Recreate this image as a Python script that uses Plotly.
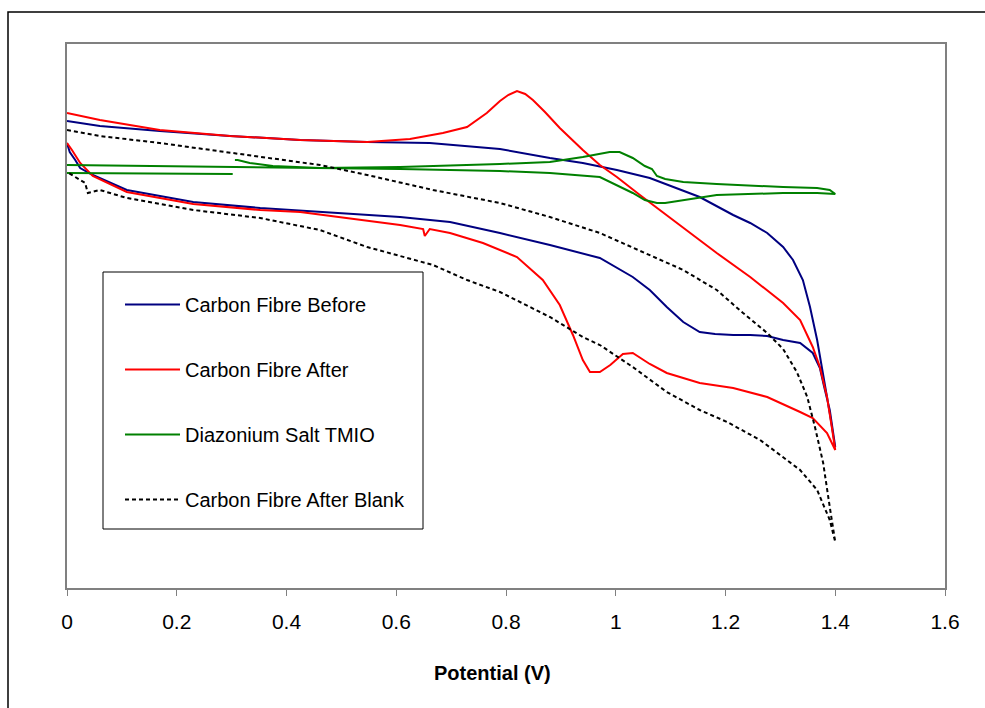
import plotly.graph_objects as go

# Cyclic voltammograms: potential (V) vs. current (arbitrary units).
# Each scan runs forward to 1.4 V and then back to 0 V.

before_v = [0.000, 0.060, 0.169, 0.297, 0.425, 0.547, 0.661, 0.789, 0.880, 0.940,
            1.002, 1.062, 1.153, 1.214, 1.245, 1.276, 1.305, 1.323, 1.341, 1.354,
            1.367, 1.378, 1.390, 1.400,
            1.390, 1.379, 1.372, 1.359, 1.336, 1.305, 1.276, 1.245, 1.214, 1.181,
            1.153, 1.123, 1.093, 1.062, 1.031, 0.971, 0.880, 0.789, 0.698, 0.607,
            0.461, 0.352, 0.230, 0.109, 0.047, 0.024, 0.015, 0.005, 0.000]
before_i = [467, 462, 457, 452, 448, 446, 445, 439, 430, 425,
            418, 410, 391, 373, 365, 355, 341, 328, 308, 281,
            248, 215, 175, 141,
            178, 203, 220, 235, 245, 248, 252, 253, 253, 254,
            256, 266, 281, 298, 311, 330, 343, 355, 366, 371,
            376, 380, 386, 398, 413, 420, 428, 436, 445]

after_v = [0.000, 0.060, 0.169, 0.297, 0.425, 0.547, 0.625, 0.685, 0.729, 0.765,
           0.789, 0.804, 0.820, 0.835, 0.849, 0.871, 0.898, 0.940, 0.971, 1.002,
           1.044, 1.080, 1.123, 1.184, 1.245, 1.305, 1.336, 1.359, 1.372, 1.385,
           1.394, 1.400,
           1.385, 1.359, 1.336, 1.276, 1.214, 1.153, 1.093, 1.062, 1.031, 1.013,
           0.990, 0.971, 0.953, 0.940, 0.922, 0.898, 0.867, 0.820, 0.758, 0.698,
           0.661, 0.652, 0.649, 0.607, 0.425, 0.352, 0.230, 0.109, 0.047, 0.024,
           0.009, 0.000]
after_i = [475, 468, 458, 452, 448, 446, 449, 455, 461, 475,
           487, 493, 497, 494, 488, 476, 460, 438, 423, 411,
           393, 378, 360, 335, 311, 285, 268, 241, 221, 191,
           160, 138,
           155, 170, 176, 191, 200, 205, 215, 224, 235, 234,
           223, 216, 216, 228, 253, 283, 308, 331, 345, 355,
           359, 352, 359, 363, 376, 378, 384, 396, 412, 425,
           438, 445]

tmio_v = [0.000, 0.302, None,
          0.306, 0.311, 0.333, 0.375, 0.461, 0.607, 0.789, 0.880, 0.940, 0.989,
          1.007, 1.031, 1.053, 1.066, 1.075, 1.090, 1.123, 1.184, 1.305, 1.367,
          1.390, 1.400,
          1.367, 1.305, 1.184, 1.123, 1.090, 1.075, 1.053, 1.031, 0.998, 0.971,
          0.880, 0.789, 0.607, 0.461, 0.243, 0.000]
tmio_i = [415, 414, None,
          428, 428, 425, 422, 420, 421, 424, 426, 431, 436,
          436, 430, 422, 419, 412, 409, 406, 404, 401, 400,
          398, 394,
          395, 395, 393, 388, 385, 385, 388, 395, 404, 411,
          415, 417, 419, 420, 422, 423]

blank_v = [0.000, 0.060, 0.169, 0.292, 0.461, 0.547, 0.667, 0.789, 0.880, 0.971,
           1.062, 1.123, 1.184, 1.232, 1.276, 1.305, 1.330, 1.349, 1.363, 1.378,
           1.390, 1.400,
           1.390, 1.367, 1.336, 1.299, 1.263, 1.203, 1.153, 1.093, 1.031, 0.971,
           0.940, 0.880, 0.789, 0.729, 0.667, 0.547, 0.461, 0.352, 0.230, 0.109,
           0.060, 0.038, 0.033, 0.024, 0.000]
blank_i = [458, 452, 445, 436, 423, 413, 398, 385, 371, 355,
           333, 318, 298, 275, 255, 239, 216, 191, 161, 125,
           81, 46,
           68, 98, 118, 133, 148, 166, 178, 196, 221, 243,
           251, 271, 296, 308, 323, 341, 358, 370, 378, 390,
           398, 395, 405, 408, 416]

series = [
    ("Carbon Fibre Before", before_v, before_i, "#000080", "solid"),
    ("Carbon Fibre After", after_v, after_i, "#FF0000", "solid"),
    ("Diazonium Salt TMIO", tmio_v, tmio_i, "#008000", "solid"),
    ("Carbon Fibre After Blank", blank_v, blank_i, "#000000", "4px,3px"),
]

fig = go.Figure()
for k, (name, xv, yv, color, dash) in enumerate(series):
    fig.add_trace(go.Scatter(
        x=xv, y=yv, name=name, mode="lines", legendgroup=f"g{k}",
        line=dict(color=color, width=2, dash=dash),
        connectgaps=False, hoverinfo="skip",
    ))

W, H = 985, 708
L, R, T, B = 67, 40, 44, 120
pw, ph = W - L - R, H - T - B


def px_x(p):
    return (p - L) / pw


def px_y(p):
    return (H - B - p) / ph


shapes = [
    # outer chart frame
    dict(type="rect", xref="paper", yref="paper",
         x0=px_x(8), x1=px_x(990), y0=px_y(715), y1=px_y(12),
         line=dict(color="#000000", width=1.5), layer="below"),
    # legend border
    dict(type="rect", xref="paper", yref="paper",
         x0=px_x(103), x1=px_x(423), y0=px_y(529), y1=px_y(272),
         line=dict(color="#000000", width=1), fillcolor="white", layer="above",
         opacity=1),
]

fig.update_layout(
    width=W, height=H, autosize=False,
    margin=dict(l=L, r=R, t=T, b=B),
    paper_bgcolor="white", plot_bgcolor="white",
    font=dict(family="Liberation Sans, Arial, sans-serif", color="#000000"),
    showlegend=True,
    legend=dict(
        x=px_x(120), y=px_y(285), xanchor="left", yanchor="top",
        bgcolor="rgba(0,0,0,0)", borderwidth=0,
        font=dict(size=20, family="Liberation Sans, Arial, sans-serif"),
        itemwidth=55, tracegroupgap=36, traceorder="grouped",
    ),
    xaxis=dict(
        range=[0, 1.6], dtick=0.2, tick0=0,
        showline=True, linecolor="#808080", linewidth=2, mirror=True,
        ticks="outside", ticklen=6, tickcolor="#808080", tickwidth=1,
        ticklabelstandoff=8,
        showgrid=False, zeroline=False,
        tickfont=dict(size=21, family="Liberation Sans, Arial"),
    ),
    yaxis=dict(
        range=[0, 544], showticklabels=False, ticks="",
        showline=True, linecolor="#808080", linewidth=2, mirror=True,
        showgrid=False, zeroline=False,
    ),
    shapes=shapes,
    annotations=[dict(
        text="<b>Potential (V)</b>", xref="paper", yref="paper",
        x=px_x(492), y=px_y(673), xanchor="center", yanchor="middle",
        showarrow=False,
        font=dict(size=20, family="Liberation Sans, Arial"),
    )],
)

fig.write_html("out.html")
